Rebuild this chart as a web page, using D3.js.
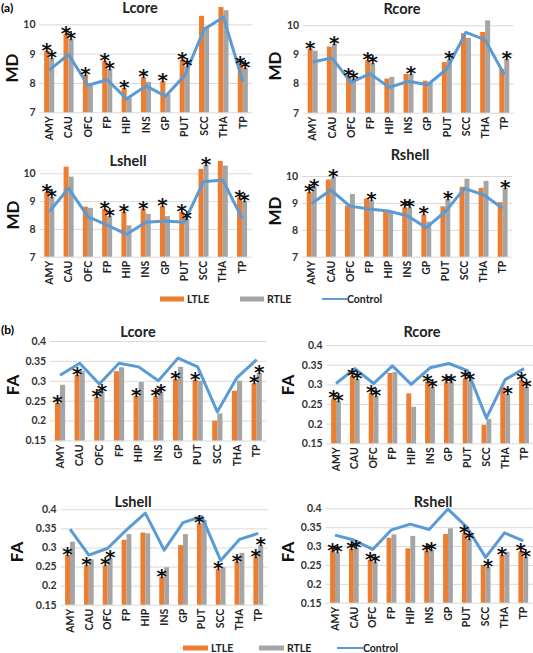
<!DOCTYPE html>
<html><head><meta charset="utf-8">
<script src="https://cdn.jsdelivr.net/npm/d3@7"></script>
<style>
body{margin:0;background:#fff;}
svg{display:block;font-family:Lato,"Open Sans",sans-serif;}
</style></head><body>
<svg id="chart" width="533" height="653"></svg>
<script>
const categories = ["AMY","CAU","OFC","FP","HIP","INS","GP","PUT","SCC","THA","TP"];
const mdTicks = [7, 8, 9, 10];
const faTicks = [0.15, 0.2, 0.25, 0.3, 0.35, 0.4];
const faTickLabels = ["0.15", "0.2", "0.25", "0.3", "0.35", "0.4"];
const seriesNames = ["LTLE", "RTLE", "Control"];

// MD (a)
const mdLcoreLTLE = [9.1, 9.68, 8.28, 8.75, 7.83, 8.19, 8.06, 8.8, 10.29, 10.59, 8.65];
const mdLcoreRTLE = [8.85, 9.5, 7.97, 8.48, 7.5, 8.04, 7.62, 8.57, 9.92, 10.48, 8.52];
const mdLcoreControl = [8.44, 8.97, 7.92, 8.11, 7.46, 7.9, 7.55, 8.25, 9.83, 10.24, 8.05];
const mdLcoreStars = ["LR","LR","L","LR","L","L","L","LR","","","LR"];

const mdRcoreLTLE = [9.2, 9.27, 8.26, 8.8, 8.17, 8.33, 8.1, 8.74, 9.73, 9.77, 8.5];
const mdRcoreRTLE = [9.13, 9.37, 8.17, 8.7, 8.23, 8.33, 8.02, 8.83, 9.57, 10.17, 8.85];
const mdRcoreControl = [8.74, 8.88, 8.04, 8.34, 7.87, 8.08, 7.96, 8.5, 9.76, 9.5, 8.3];
const mdRcoreStars = ["L","R","LR","LR","","R","","R","","","R"];

const mdLshellLTLE = [9.32, 10.24, 8.8, 8.72, 8.62, 8.73, 8.82, 8.6, 10.16, 10.44, 9.12];
const mdLshellRTLE = [9.15, 9.88, 8.76, 8.46, 8.13, 8.54, 8.46, 8.35, 10.3, 10.28, 9.0];
const mdLshellControl = [8.62, 9.46, 8.44, 8.14, 7.8, 8.24, 8.28, 8.24, 9.7, 9.76, 8.38];
const mdLshellStars = ["LR","","","LR","L","L","L","LR","R","","LR"];

const mdRshellLTLE = [9.4, 9.87, 8.9, 9.17, 8.68, 8.83, 8.57, 8.87, 9.6, 9.56, 9.03];
const mdRshellRTLE = [9.6, 9.95, 9.33, 9.1, 8.65, 8.83, 8.3, 9.14, 9.9, 9.82, 9.56];
const mdRshellControl = [8.98, 9.48, 8.88, 8.77, 8.7, 8.52, 8.08, 8.68, 9.54, 9.3, 8.8];
const mdRshellStars = ["LR","R","","R","","LR","L","R","","","R"];

// FA (b)
const faLcoreLTLE = [0.245, 0.315, 0.259, 0.324, 0.262, 0.261, 0.304, 0.302, 0.2, 0.275, 0.294];
const faLcoreRTLE = [0.29, 0.325, 0.273, 0.334, 0.297, 0.273, 0.335, 0.3, 0.218, 0.3, 0.32];
const faLcoreControl = [0.314, 0.344, 0.292, 0.344, 0.335, 0.3, 0.357, 0.335, 0.222, 0.308, 0.353];
const faLcoreStars = ["L","L","LR","","L","LR","L","L","","","LR"];

const faRcoreLTLE = [0.264, 0.322, 0.278, 0.329, 0.277, 0.307, 0.305, 0.315, 0.197, 0.292, 0.31];
const faRcoreRTLE = [0.258, 0.313, 0.27, 0.331, 0.243, 0.294, 0.307, 0.31, 0.212, 0.275, 0.294];
const faRcoreControl = [0.302, 0.34, 0.302, 0.347, 0.3, 0.342, 0.353, 0.335, 0.214, 0.312, 0.34];
const faRcoreStars = ["LR","LR","LR","","","LR","LR","LR","","R","LR"];

const faLshellLTLE = [0.28, 0.253, 0.253, 0.32, 0.339, 0.223, 0.306, 0.363, 0.243, 0.263, 0.276];
const faLshellRTLE = [0.315, 0.269, 0.272, 0.335, 0.337, 0.248, 0.335, 0.372, 0.248, 0.286, 0.306];
const faLshellControl = [0.348, 0.28, 0.298, 0.346, 0.39, 0.293, 0.365, 0.381, 0.266, 0.321, 0.337];
const faLshellStars = ["L","L","LR","","","L","","L","L","L","LR"];

const faRshellLTLE = [0.288, 0.293, 0.263, 0.322, 0.294, 0.288, 0.332, 0.334, 0.25, 0.276, 0.286];
const faRshellRTLE = [0.283, 0.295, 0.258, 0.331, 0.327, 0.29, 0.347, 0.32, 0.245, 0.285, 0.272];
const faRshellControl = [0.329, 0.316, 0.291, 0.343, 0.358, 0.344, 0.398, 0.35, 0.27, 0.335, 0.314];
const faRshellStars = ["LR","LR","LR","","","LR","","LR","R","L","LR"];

const COL_L = "#ED7D31", COL_R = "#A5A5A5", COL_C = "#5B9BD5", GRID = "#D9D9D9";

const panels = [
  {title:"Lcore", ylab:"MD", L:mdLcoreLTLE, R:mdLcoreRTLE, C:mdLcoreControl, S:mdLcoreStars, ticks:mdTicks, tl:mdTicks.map(String),
   x0:39.5, x1:252.5, yt:24.3, yb:112.3, tx:140, ty:13, lx:12, ly:68},
  {title:"Rcore", ylab:"MD", L:mdRcoreLTLE, R:mdRcoreRTLE, C:mdRcoreControl, S:mdRcoreStars, ticks:mdTicks, tl:mdTicks.map(String),
   x0:303.1, x1:513.9, yt:25.3, yb:112.7, tx:402, ty:13.5, lx:275, ly:66},
  {title:"Lshell", ylab:"MD", L:mdLshellLTLE, R:mdLshellRTLE, C:mdLshellControl, S:mdLshellStars, ticks:mdTicks, tl:mdTicks.map(String),
   x0:39.7, x1:251.7, yt:173.3, yb:256.7, tx:128, ty:166, lx:13, ly:215},
  {title:"Rshell", ylab:"MD", L:mdRshellLTLE, R:mdRshellRTLE, C:mdRshellControl, S:mdRshellStars, ticks:mdTicks, tl:mdTicks.map(String),
   x0:302.2, x1:512.2, yt:176, yb:256.7, tx:410, ty:160, lx:275, ly:211},
  {title:"Lcore", ylab:"FA", L:faLcoreLTLE, R:faLcoreRTLE, C:faLcoreControl, S:faLcoreStars, ticks:faTicks, tl:faTickLabels,
   x0:50.2, x1:266.5, yt:341, yb:440.5, tx:138, ty:337, lx:13, ly:385},
  {title:"Rcore", ylab:"FA", L:faRcoreLTLE, R:faRcoreRTLE, C:faRcoreControl, S:faRcoreStars, ticks:faTicks, tl:faTickLabels,
   x0:326.6, x1:533.4, yt:345, yb:443.3, tx:422, ty:337, lx:288, ly:385},
  {title:"Lshell", ylab:"FA", L:faLshellLTLE, R:faLshellRTLE, C:faLshellControl, S:faLshellStars, ticks:faTicks, tl:faTickLabels,
   x0:60.6, x1:267.7, yt:509.3, yb:604.7, tx:133, ty:507, lx:17, ly:552},
  {title:"Rshell", ylab:"FA", L:faRshellLTLE, R:faRshellRTLE, C:faRshellControl, S:faRshellStars, ticks:faTicks, tl:faTickLabels,
   x0:325.6, x1:532.7, yt:508.3, yb:602.7, tx:433, ty:507, lx:288, ly:552}
];

const svg = d3.select("#chart");

panels.forEach(p => {
  const g = svg.append("g");
  const x = d3.scaleBand().domain(categories).range([p.x0, p.x1]).paddingInner(0.48).paddingOuter(0.24);
  const xs = d3.scaleBand().domain(["L","R"]).range([0, x.bandwidth()]);
  const y = d3.scaleLinear().domain([p.ticks[0], p.ticks[p.ticks.length-1]]).range([p.yb, p.yt]);

  const ya = g.append("g").attr("transform", `translate(${p.x0},0)`)
    .call(d3.axisLeft(y).tickValues(p.ticks).tickSize(-(p.x1 - p.x0)).tickPadding(4)
      .tickFormat((d,i) => p.tl[i]));
  ya.select(".domain").remove();
  ya.selectAll(".tick line").attr("stroke", GRID).attr("stroke-width", 1);
  ya.selectAll(".tick text").attr("font-family","Lato,sans-serif").attr("font-size", 10.5)
    .attr("font-weight", "bold").attr("fill", "#333");

  const xa = g.append("g").attr("transform", `translate(0,${p.yb})`)
    .call(d3.axisBottom(x).tickSize(0).tickPadding(0));
  xa.select(".domain").remove();
  xa.selectAll(".tick text").attr("font-family","Lato,sans-serif").attr("font-size", 10.5)
    .attr("font-weight", "bold").attr("fill", "#222")
    .attr("text-anchor", "end").attr("transform", "rotate(-90)")
    .attr("x", -4).attr("y", 0).attr("dy", "0.35em");

  const rows = categories.map((c,i) => ({c, L:p.L[i], R:p.R[i], C:p.C[i], S:p.S[i]}));

  g.selectAll(".bl").data(rows).join("rect")
    .attr("x", d => x(d.c) + xs("L")).attr("width", xs.bandwidth())
    .attr("y", d => y(d.L)).attr("height", d => p.yb - y(d.L)).attr("fill", COL_L);
  g.selectAll(".br").data(rows).join("rect")
    .attr("x", d => x(d.c) + xs("R")).attr("width", xs.bandwidth())
    .attr("y", d => y(d.R)).attr("height", d => p.yb - y(d.R)).attr("fill", COL_R);

  const line = d3.line().x(d => x(d.c) + x.bandwidth()/2).y(d => y(d.C));
  g.append("path").datum(rows).attr("d", line).attr("fill", "none")
    .attr("stroke", COL_C).attr("stroke-width", 3).attr("stroke-linejoin", "round");

  const stars = [];
  rows.forEach(d => {
    if (d.S.includes("L")) stars.push({c:d.c, k:"L", v:d.L});
    if (d.S.includes("R")) stars.push({c:d.c, k:"R", v:d.R});
  });
  g.selectAll(".star").data(stars).join("text")
    .attr("x", d => x(d.c) + xs(d.k) + xs.bandwidth()/2)
    .attr("y", d => y(d.v) + 6)
    .attr("text-anchor", "middle").attr("font-family", "'DejaVu Sans',sans-serif")
    .attr("font-weight", "bold")
    .attr("font-size", 20).attr("fill", "#111").text("*");

  g.append("text").attr("x", p.tx).attr("y", p.ty).attr("text-anchor", "middle")
    .attr("font-size", 14.5).attr("font-weight", "bold").attr("fill", "#222").text(p.title);
  g.append("text").attr("transform", `translate(${p.lx},${p.ly}) rotate(-90)`)
    .attr("text-anchor", "middle").attr("dy", "0.35em")
    .attr("font-size", 17).attr("font-weight", "bold").attr("fill", "#111").text(p.ylab);
});

svg.append("text").attr("x", 1).attr("y", 12).attr("font-size", 12).attr("font-weight", "bold").text("(a)");
svg.append("text").attr("x", 1).attr("y", 334).attr("font-size", 12).attr("font-weight", "bold").text("(b)");

const legends = [
  {y:299, pos:[160, 240, 322], w:24},
  {y:648, pos:[183, 259, 337], w:25}
];
legends.forEach(lg => {
  const g = svg.append("g");
  seriesNames.forEach((name, i) => {
    const x0 = lg.pos[i];
    if (i < 2) {
      g.append("rect").attr("x", x0).attr("y", lg.y - 2.5).attr("width", lg.w).attr("height", 5)
        .attr("fill", i === 0 ? COL_L : COL_R);
    } else {
      g.append("line").attr("x1", x0).attr("x2", x0 + lg.w + 1).attr("y1", lg.y).attr("y2", lg.y)
        .attr("stroke", COL_C).attr("stroke-width", 2);
    }
    g.append("text").attr("x", x0 + lg.w + (i < 2 ? 3 : 1)).attr("y", lg.y).attr("dy", "0.35em")
      .attr("font-size", 10.5).attr("font-weight", "bold").attr("fill", "#222").text(name);
  });
});
</script>
</body></html>
